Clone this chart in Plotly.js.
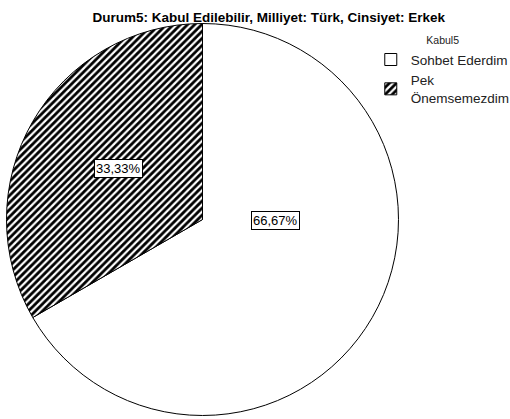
<!DOCTYPE html>
<html><head><meta charset="utf-8">
<script src="https://cdn.plot.ly/plotly-3.0.1.min.js"></script>
<style>html,body{margin:0;padding:0;background:#fff}</style>
</head><body>
<div id="chart" style="width:510px;height:419px"></div>
<script>
const categories = ["Sohbet Ederdim", "Pek<br>Önemsemezdim"];
const values = [2, 1];
const labelPosX = [0.541, 0.2314];
const labelPosY = [0.4726, 0.5967];

const total = values.reduce((a,b)=>a+b,0);
const pctText = values.map(v => (v/total*100).toFixed(2).replace('.', ',') + '%');

const FONT = 'Liberation Sans, Arial, sans-serif';

const trace = {
  type: 'pie',
  labels: categories,
  values: values,
  sort: false,
  direction: 'clockwise',
  rotation: 0,
  textinfo: 'none',
  hoverinfo: 'label+percent',
  domain: {x: [0.01275, 0.78137], y: [0.00835, 0.94391]},
  marker: {
    colors: ['#ffffff', '#000000'],
    line: {color: '#000000', width: 1},
    pattern: {shape: ['', '/'], fgcolor: '#000000', bgcolor: '#ffffff', size: 5, solidity: 0.55}
  }
};

const annotations = pctText.map((t,i) => ({
  text: t, xref: 'paper', yref: 'paper', x: labelPosX[i], y: labelPosY[i],
  xanchor: 'center', yanchor: 'middle',
  showarrow: false, bgcolor: '#ffffff', bordercolor: '#000000', borderwidth: 1, borderpad: 1,
  font: {family: FONT, size: 13, color: '#000000'}
}));

const layout = {
  width: 510, height: 419,
  margin: {l: 0, r: 0, t: 0, b: 0, autoexpand: false},
  paper_bgcolor: '#ffffff',
  title: {text: '<b>Durum5: Kabul Edilebilir, Milliyet: Türk, Cinsiyet: Erkek</b>',
    x: 0.527, xanchor: 'center', y: 0.959, yref: 'container', yanchor: 'middle',
    font: {family: FONT, size: 13.5, color: '#000000'}},
  showlegend: true,
  legend: {
    x: 0.727, y: 0.927, xanchor: 'left', yanchor: 'top',
    title: {text: 'Kabul5', side: 'top center', font: {family: FONT, size: 10.5, color: '#222222'}},
    font: {family: FONT, size: 13.5, color: '#222222'},
    itemwidth: 30, tracegroupgap: 0, bgcolor: 'rgba(0,0,0,0)'
  },
  annotations: annotations
};

Plotly.newPlot('chart', [trace], layout, {displayModeBar: false, staticPlot: true});
</script>
</body></html>
